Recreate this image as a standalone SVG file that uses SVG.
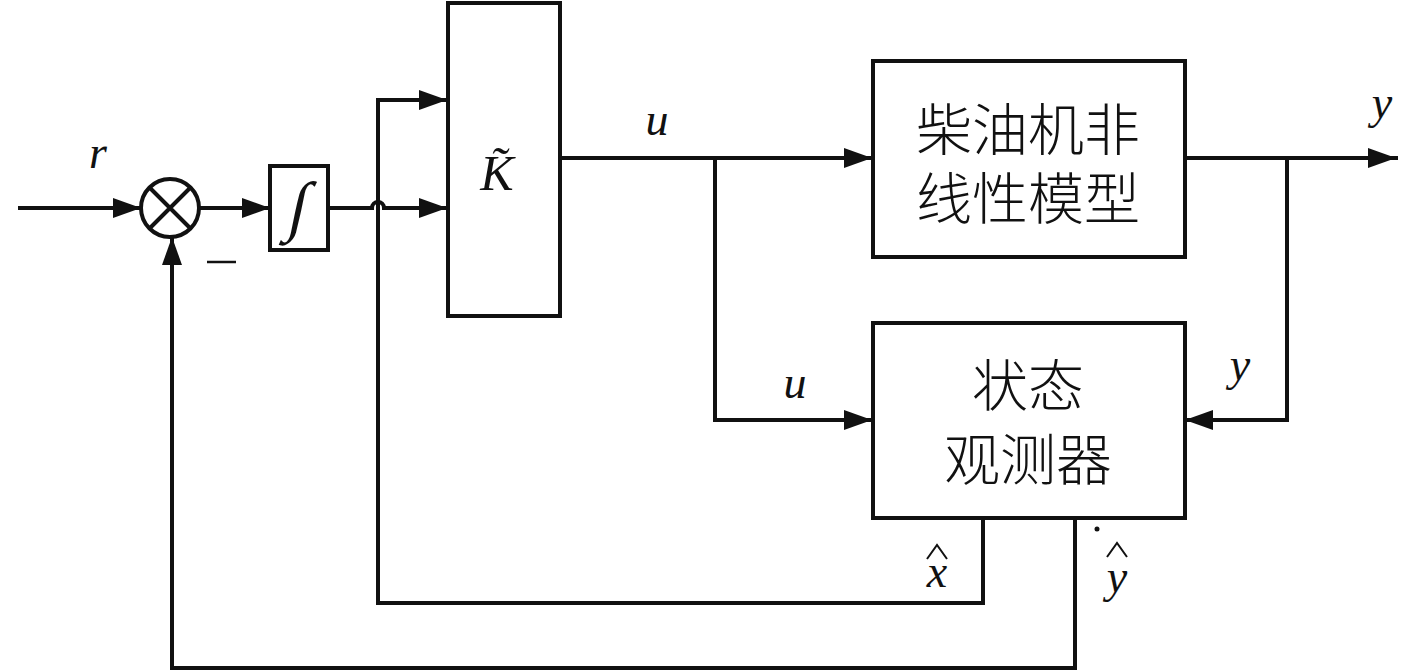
<svg xmlns="http://www.w3.org/2000/svg" width="1417" height="672" viewBox="0 0 1417 672">
<style>
.ln{fill:none;stroke:#111;stroke-width:4;stroke-linejoin:miter;stroke-linecap:square}
.box{fill:#fff;stroke:#111;stroke-width:4}
.m{font-family:"Liberation Serif","Times New Roman",serif;font-style:italic;fill:#111}
.cn{font-family:"Noto Sans CJK SC",sans-serif;font-size:56px;fill:#111;text-anchor:middle;font-weight:300}
</style>
<defs>
<marker id="ah" viewBox="0 0 28 20" refX="28" refY="10" markerWidth="28" markerHeight="20" markerUnits="userSpaceOnUse" orient="auto">
<path d="M0,0 L28,10 L0,20 Z" fill="#111"/>
</marker>
</defs>
<rect width="1417" height="672" fill="#fff"/>
<g id="connectors">
<path class="ln" d="M20,208 H141" marker-end="url(#ah)"/>
<path class="ln" d="M199,208 H270" marker-end="url(#ah)"/>
<path class="ln" d="M328,208 H372 A6,6 0 0 1 384,208 H447" marker-end="url(#ah)"/>
<path class="ln" d="M378,603 V100 H447" marker-end="url(#ah)"/>
<path class="ln" d="M560,158 H872" marker-end="url(#ah)"/>
<path class="ln" d="M715,158 V420 H872" marker-end="url(#ah)"/>
<path class="ln" d="M1185,158 H1396" marker-end="url(#ah)"/>
<path class="ln" d="M1287,158 V420 H1185" marker-end="url(#ah)"/>
<path class="ln" d="M983,518 V603 H378"/>
<path class="ln" d="M1075,518 V668 H172 V237" marker-end="url(#ah)"/>
</g>
<g id="sum">
<circle cx="170" cy="208" r="29" class="box"/>
<path class="ln" d="M149.5,187.5 L190.5,228.5 M190.5,187.5 L149.5,228.5" style="stroke-linecap:butt"/>
</g>
<g id="integrator">
<rect x="270" y="166" width="58" height="84" class="box"/>
<text x="299" y="228" class="m" font-size="66" text-anchor="middle" transform="translate(299,208) skewX(-12) translate(-299,-208)">∫</text>
</g>
<g id="K">
<rect x="448" y="3" width="112" height="313" class="box"/>
<text x="497" y="190" class="m" font-size="50" text-anchor="middle">K̃</text>
</g>
<g id="model">
<rect x="873" y="61" width="312" height="196" class="box"/>
<text class="cn"><tspan x="1028" y="150">柴油机非</tspan><tspan x="1028" y="219">线性模型</tspan></text>
</g>
<g id="observer">
<rect x="873" y="323" width="312" height="195" class="box"/>
<text class="cn"><tspan x="1028" y="406">状态</tspan><tspan x="1028" y="480">观测器</tspan></text>
</g>
<g id="labels">
<text x="98" y="168" class="m" font-size="46" text-anchor="middle">r</text>
<line x1="207" y1="262" x2="236" y2="262" stroke="#111" stroke-width="2.5"/>
<text x="657" y="135" class="m" font-size="46" text-anchor="middle">u</text>
<text x="795" y="398" class="m" font-size="46" text-anchor="middle">u</text>
<text x="1382" y="118" class="m" font-size="46" text-anchor="middle">y</text>
<text x="1240" y="380" class="m" font-size="46" text-anchor="middle">y</text>
<text x="937" y="587" class="m" font-size="46" text-anchor="middle">x</text>
<path d="M927,559 L937,545 L947,559" fill="none" stroke="#111" stroke-width="2"/>
<text x="1117" y="592" class="m" font-size="46" text-anchor="middle">y</text>
<path d="M1107,557 L1117,543 L1127,557" fill="none" stroke="#111" stroke-width="2"/>
<circle cx="1097" cy="529" r="2.5" fill="#111"/>
</g>
</svg>
